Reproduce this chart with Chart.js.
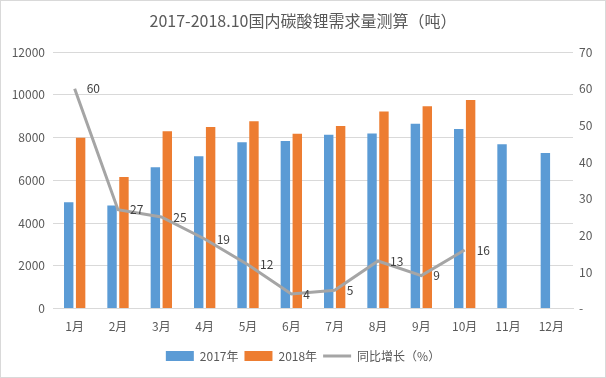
<!DOCTYPE html>
<html>
<head>
<meta charset="utf-8">
<script src="https://cdn.jsdelivr.net/npm/chart.js@4/dist/chart.umd.min.js"></script>
<style>
  html, body { margin: 0; padding: 0; background: #fff; }
  #wrap { width: 606px; height: 378px; position: relative; box-sizing: border-box; border: 1px solid #d9d9d9; }
  canvas { display: block; }
</style>
</head>
<body>
<div id="wrap"><canvas id="c" width="604" height="376"></canvas></div>
<script>
const categories = ['1月','2月','3月','4月','5月','6月','7月','8月','9月','10月','11月','12月'];
const demand2017 = [4980, 4830, 6610, 7130, 7780, 7840, 8140, 8200, 8650, 8400, 7690, 7280];
const demand2018 = [8000, 6160, 8300, 8500, 8770, 8180, 8550, 9220, 9470, 9760, null, null];
const yoyGrowth = [60, 27, 25, 19, 12, 4, 5, 13, 9, 16, null, null];
const leftTicks = [0, 2000, 4000, 6000, 8000, 10000, 12000];
const rightTicks = [0, 10, 20, 30, 40, 50, 60, 70];

const FONT = "'Noto Sans CJK SC', 'Noto Sans', sans-serif";
const TXT = '#595959';

const lineLabels = {
  id: 'lineLabels',
  afterDatasetsDraw(chart) {
    const ctx = chart.ctx;
    const meta = chart.getDatasetMeta(2);
    ctx.save();
    ctx.font = '12px ' + FONT;
    ctx.fillStyle = '#404040';
    ctx.textAlign = 'left';
    ctx.textBaseline = 'middle';
    meta.data.forEach((pt, i) => {
      const v = yoyGrowth[i];
      if (v == null) return;
      ctx.fillText(String(v), pt.x + 12, pt.y);
    });
    ctx.restore();
  }
};

new Chart(document.getElementById('c'), {
  data: {
    labels: categories,
    datasets: [
      { type: 'bar', label: '2017年', data: demand2017, backgroundColor: '#5B9BD5', yAxisID: 'y', categoryPercentage: 0.55, barPercentage: 0.79, order: 2 },
      { type: 'bar', label: '2018年', data: demand2018, backgroundColor: '#ED7D31', yAxisID: 'y', categoryPercentage: 0.55, barPercentage: 0.79, order: 2 },
      { type: 'line', label: '同比增长（%）', data: yoyGrowth, borderColor: '#A5A5A5', backgroundColor: '#A5A5A5', borderWidth: 3, pointRadius: 0, yAxisID: 'y1', order: 1, spanGaps: false }
    ]
  },
  options: {
    responsive: false,
    animation: false,
    layout: { padding: { top: 10, bottom: 5, left: 0, right: 0 } },
    plugins: {
      title: { display: true, text: '2017-2018.10国内碳酸锂需求量测算（吨）', color: TXT, font: { family: FONT, size: 16, weight: 'normal' }, padding: { top: 0, bottom: 22 } },
      legend: {
        position: 'bottom',
        labels: {
          color: TXT, font: { family: FONT, size: 12 }, usePointStyle: true, pointStyleWidth: 28, boxHeight: 10, padding: 6,
          generateLabels(chart) {
            return chart.data.datasets.map((ds, i) => ({
              text: ds.label,
              fillStyle: ds.backgroundColor,
              strokeStyle: ds.type === 'line' ? ds.borderColor : ds.backgroundColor,
              lineWidth: ds.type === 'line' ? 3 : 0,
              pointStyle: ds.type === 'line' ? 'line' : 'rect',
              fontColor: TXT,
              hidden: false,
              datasetIndex: i
            }));
          }
        }
      },
      tooltip: { enabled: false }
    },
    scales: {
      x: {
        grid: { display: false },
        border: { display: true, color: '#d9d9d9' },
        afterFit(s) { s.height += 7; },
        ticks: { color: TXT, font: { family: FONT, size: 12 }, padding: 3, maxRotation: 0 }
      },
      y: {
        position: 'left', min: 0, max: 12000,
        afterBuildTicks(s) { s.ticks = leftTicks.map(v => ({ value: v })); },
        afterFit(s) { s.width = 52; },
        grid: { color: '#d9d9d9', drawTicks: false },
        border: { display: false },
        ticks: { color: TXT, font: { family: FONT, size: 12 }, padding: 8, callback: v => String(v) }
      },
      y1: {
        position: 'right', min: 0, max: 70,
        afterBuildTicks(s) { s.ticks = rightTicks.map(v => ({ value: v })); },
        afterFit(s) { s.width = 32; },
        grid: { display: false, drawTicks: false },
        border: { display: false },
        ticks: { color: TXT, font: { family: FONT, size: 12 }, padding: 6, callback: v => v === 0 ? '-' : String(v) }
      }
    }
  },
  plugins: [lineLabels]
});
</script>
</body>
</html>
